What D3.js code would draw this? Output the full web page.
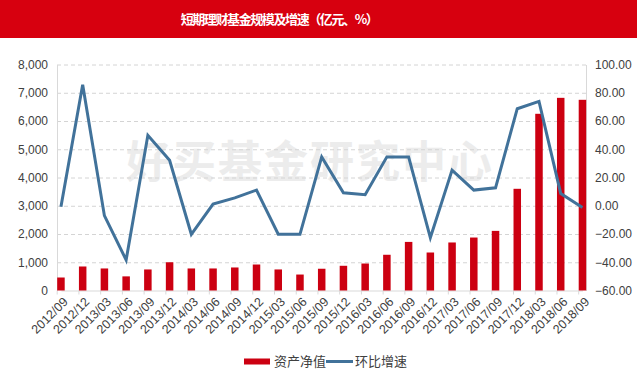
<!DOCTYPE html>
<html><head><meta charset="utf-8">
<script src="https://cdn.jsdelivr.net/npm/d3@7"></script>
<style>
body{margin:0;background:#fff;}
svg{display:block;font-family:"Noto Sans CJK SC","Liberation Sans",sans-serif;}
</style></head>
<body>
<svg id="chart" width="637" height="370"></svg>
<script>
const categories = ["2012/09","2012/12","2013/03","2013/06","2013/09","2013/12","2014/03","2014/06","2014/09","2014/12","2015/03","2015/06","2015/09","2015/12","2016/03","2016/06","2016/09","2016/12","2017/03","2017/06","2017/09","2017/12","2018/03","2018/06","2018/09"];
const netAssets = [460,850,780,500,745,1000,780,780,815,920,745,565,770,875,955,1265,1720,1345,1700,1875,2110,3600,6255,6820,6750];
const growth = [-0.7,85.6,-7,-38.4,49.9,32.2,-20.2,1.2,5.6,11.1,-20.2,-20.2,34.6,9.2,7.8,34.6,34.6,-22.6,25.2,11.1,12.7,68.7,73.9,8.7,-1.2];
const leftTicks = [0,1000,2000,3000,4000,5000,6000,7000,8000];
const rightTicks = [-60,-40,-20,0,20,40,60,80,100];
const title = "短期理财基金规模及增速（亿元、%）";
const watermark = "好买基金研究中心";
const legendNames = ["资产净值","环比增速"];

const svg = d3.select("#chart");
const W = 637, H = 370;
const plot = {left:57, right:586, top:64.5, bottom:290.5};
const bw = 7.5;
const barColor = "#cc0011", lineColor = "#41729a";

// title bar
svg.append("rect").attr("x",0).attr("y",0).attr("width",W).attr("height",38).attr("fill","#d7000f");
svg.append("text").attr("x",279).attr("y",23.5).attr("text-anchor","middle")
  .attr("fill","#fff").attr("font-size",13).attr("font-weight","bold")
  .attr("letter-spacing",-1.4).text(title);

const x = d3.scalePoint().domain(categories).range([plot.left+bw/2+0.2, plot.right-bw/2+0.2]);
const yL = d3.scaleLinear().domain([0,8000]).range([plot.bottom, plot.top]);
const yR = d3.scaleLinear().domain([-60,100]).range([plot.bottom, plot.top]);

// watermark
svg.append("text").attr("x",310).attr("y",178).attr("text-anchor","middle")
  .attr("fill","#ececec").attr("font-size",44).attr("font-weight","bold")
  .attr("letter-spacing",2).text(watermark);

// gridlines
svg.append("g").selectAll("line").data(leftTicks.filter(d=>d>0)).join("line")
  .attr("x1",plot.left).attr("x2",plot.right)
  .attr("y1",d=>yL(d)+0.5).attr("y2",d=>yL(d)+0.5)
  .attr("stroke","#d4d4d4").attr("stroke-dasharray","4,3").attr("stroke-width",1);

// axes
const gL = svg.append("g").attr("transform",`translate(${plot.left},0)`)
  .call(d3.axisLeft(yL).tickValues(leftTicks).tickFormat(d3.format(",")).tickSize(0).tickPadding(9));
const gR = svg.append("g").attr("transform",`translate(${plot.right},0)`)
  .call(d3.axisRight(yR).tickValues(rightTicks).tickFormat(d3.format(".2f")).tickSize(0).tickPadding(9));
const gX = svg.append("g").attr("transform",`translate(0,${plot.bottom})`)
  .call(d3.axisBottom(x).tickSize(0).tickPadding(0));
[gL,gR].forEach(g=>{
  g.select(".domain").attr("stroke","#d9d9d9");
  g.selectAll("text").attr("font-size",12).attr("fill","#404040").attr("font-family","'Liberation Sans',sans-serif");
});
gX.select(".domain").attr("stroke","#d9d9d9");
gX.selectAll("text").attr("font-size",12.5).attr("fill","#404040")
  .attr("font-family","'Liberation Sans',sans-serif")
  .attr("text-anchor","end").attr("dy","0.35em")
  .attr("transform","translate(4,9) rotate(-45)");

// category tick marks
svg.append("g").selectAll("line").data(categories).join("line")
  .attr("x1",d=>x(d)-bw/2).attr("x2",d=>x(d)-bw/2)
  .attr("y1",plot.bottom).attr("y2",plot.bottom+4)
  .attr("stroke","#d9d9d9");

// bars
svg.append("g").selectAll("rect").data(netAssets).join("rect")
  .attr("x",(d,i)=>x(categories[i])-bw/2).attr("width",bw)
  .attr("y",d=>yL(d)).attr("height",d=>plot.bottom-yL(d))
  .attr("fill",barColor);

// line
svg.append("path").datum(growth)
  .attr("d",d3.line().x((d,i)=>x(categories[i])).y(d=>yR(d)))
  .attr("fill","none").attr("stroke",lineColor).attr("stroke-width",3)
  .attr("stroke-linejoin","miter");

// legend
const lg = svg.append("g");
lg.append("rect").attr("x",244).attr("y",358.5).attr("width",26).attr("height",6).attr("fill",barColor);
lg.append("text").attr("x",274).attr("y",366).attr("font-size",13).attr("fill","#404040").text(legendNames[0]);
lg.append("line").attr("x1",326).attr("x2",353).attr("y1",361.5).attr("y2",361.5).attr("stroke",lineColor).attr("stroke-width",3);
lg.append("text").attr("x",355).attr("y",366).attr("font-size",13).attr("fill","#404040").text(legendNames[1]);
</script>
</body></html>
